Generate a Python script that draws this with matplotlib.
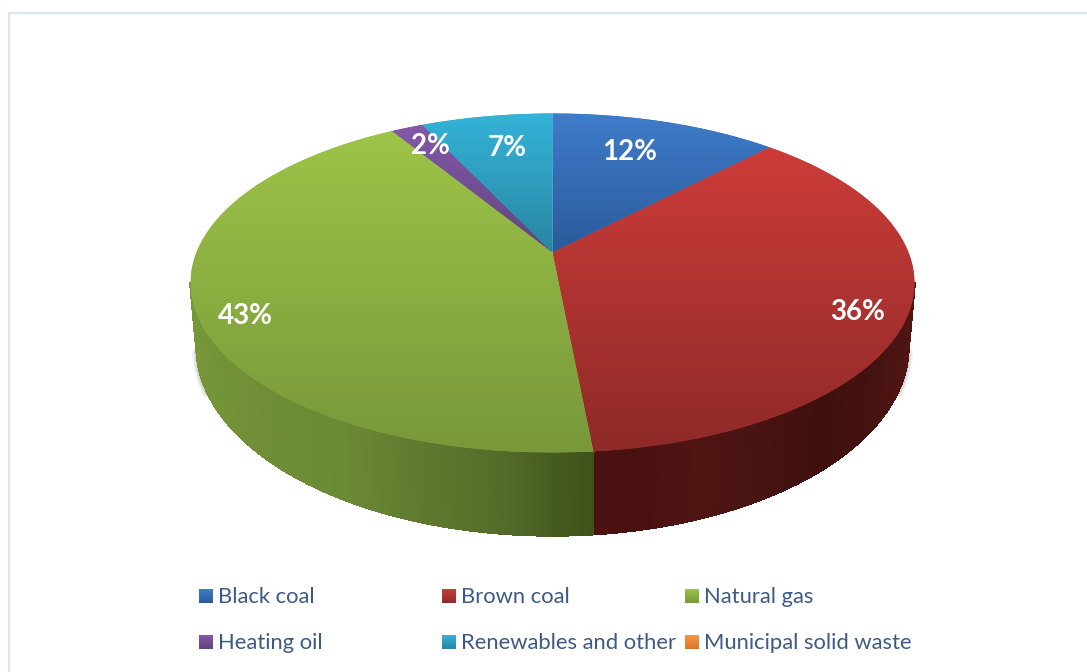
import numpy as np
import matplotlib
matplotlib.use("Agg")
import matplotlib.pyplot as plt
from matplotlib.colors import to_rgb
from matplotlib.patches import Polygon
from matplotlib.collections import PolyCollection

categories = ["Black coal", "Brown coal", "Natural gas", "Heating oil",
              "Renewables and other", "Municipal solid waste"]
shares = [12.1, 36.4, 42.8, 1.7, 7.0, 0.0]

top_colors = ["#3f7cca", "#cd3c39", "#9dc448", "#8359a9", "#34b3d8", "#f79646"]
bottom_colors = ["#2a5b9a", "#8e2a28", "#78983a", "#61447d", "#2986a2", "#d9762a"]

plt.rcParams["font.family"] = ["Lato", "DejaVu Sans"]
W, H = 1087, 672
fig = plt.figure(figsize=(W / 100, H / 100), dpi=100)
ax = fig.add_axes([0, 0, 1, 1])
ax.axis("off")

CX, CY, C, A, K = 552.5, 252.5, 356.0, 164.0, 0.18
BOT_RX, BOT_CY, BOT_RY = 356.0, 346.0, 189.5


def project(theta):
    x, y = np.sin(theta), np.cos(theta)
    w = 1 + K * y
    return CX + C * x / w, CY - A * y / w


def bottom_point(sx):
    bx = CX + (sx - CX) * BOT_RX / 362.0
    u = np.clip((bx - CX) / BOT_RX, -1, 1)
    return bx, BOT_CY + BOT_RY * np.sqrt(1 - u ** 2)


def gradient_fill(poly_xy, c_top, c_bot, zorder=3):
    y0, y1 = poly_xy[:, 1].min(), poly_xy[:, 1].max()
    x0, x1 = poly_xy[:, 0].min(), poly_xy[:, 0].max()
    t = np.linspace(0, 1, 256)[:, None, None]
    grad = (1 - t) * np.array(to_rgb(c_top))[None, None, :] + t * np.array(to_rgb(c_bot))[None, None, :]
    mid = tuple(0.5 * (np.array(to_rgb(c_top)) + np.array(to_rgb(c_bot))))
    # solid base underneath closes antialiasing seams between neighbours
    ax.add_patch(Polygon(poly_xy, closed=True, fc=mid, ec="none", zorder=zorder - 0.5))
    im = ax.imshow(grad, extent=(x0, x1, y1, y0), aspect="auto", origin="upper",
                   zorder=zorder, interpolation="bilinear")
    patch = Polygon(poly_xy, closed=True, transform=ax.transData, fc="none", ec="none")
    ax.add_patch(patch)
    im.set_clip_path(patch)


# Cumulative angles (clockwise from 12 o'clock)
edges = np.radians(np.concatenate([[0], np.cumsum(shares)]) / sum(shares) * 360)

# Outer soft shadow of the wall
th_ext = np.arccos(-K)
for side, rng in ((-1, (np.radians(246), 2 * np.pi - th_ext)), (1, (th_ext, np.radians(114)))):
    th = np.linspace(rng[0], rng[1], 60)
    sx, _ = project(th)
    bx, by = bottom_point(sx)
    for lw, alpha, off in ((4, 0.07, 2.0), (2.5, 0.10, 1.5), (1.2, 0.14, 1.0)):
        ax.plot(bx + side * off, by + 2, color="#606060", lw=lw, alpha=alpha, zorder=1,
                solid_capstyle="round")

# Side wall: shades along x
wall_x = {
    1: ([594, 640, 700, 760, 820, 870, 914],
        ["#4a1210", "#481210", "#4f1513", "#471311", "#3f100f", "#441210", "#501613"]),
    2: ([190, 260, 340, 420, 500, 560, 594],
        ["#769638", "#6f8e37", "#6b8a35", "#5f7a2f", "#546c29", "#45591f", "#3f5219"]),
}
for i, (xs, cols) in wall_x.items():
    a0, a1 = max(edges[i], th_ext), min(edges[i + 1], 2 * np.pi - th_ext)
    th = np.linspace(a0, a1, 260)
    sx, sy = project(th)
    bx, by = bottom_point(sx)
    rgb = np.array([to_rgb(c) for c in cols])
    quads, fc = [], []
    for j in range(len(th) - 1):
        quads.append([(sx[j], sy[j]), (sx[j + 1], sy[j + 1]), (bx[j + 1], by[j + 1]), (bx[j], by[j])])
        xm = 0.5 * (sx[j] + sx[j + 1])
        fc.append([np.interp(xm, xs, rgb[:, c]) for c in range(3)])
    ax.add_collection(PolyCollection(quads, facecolors=fc, edgecolors=fc, linewidths=1.0,
                                     antialiaseds=False, zorder=2))

# Top face
for i, s in enumerate(shares):
    if s <= 0:
        continue
    th = np.linspace(edges[i], edges[i + 1], max(8, int(s * 8)))
    px, py = project(th)
    poly = np.column_stack([np.r_[CX, px], np.r_[CY, py]])
    gradient_fill(poly, top_colors[i], bottom_colors[i])

# Percentage labels
label_anchor = [(630, 152), (858, 312), (245, 316), (430, 146), (507, 148)]
for s, (lx, ly) in zip(shares, label_anchor):
    ax.text(lx, ly, f"{s:.0f}%", color="white", fontsize=20, fontweight="bold",
            ha="center", va="center", zorder=6)

# Legend
col_x = [199, 442, 685]
row_y = [596, 642]
for i, name in enumerate(categories):
    mx, my = col_x[i % 3], row_y[i // 3]
    sq = np.array([(mx, my - 7), (mx + 14, my - 7), (mx + 14, my + 7), (mx, my + 7)], float)
    gradient_fill(sq, top_colors[i], bottom_colors[i], zorder=5)
    ax.text(mx + 19, my + 1, name, color="#3d5a86", fontsize=15.8, va="center", ha="left", zorder=6)

# Chart frame (top and left only are visible)
ax.plot([9, 9, W], [H, 13, 13], color="#d8e5f5", lw=1.6, zorder=0, solid_joinstyle="miter")

ax.set_xlim(0, W)
ax.set_ylim(H, 0)
fig.savefig("out.png", dpi=100, facecolor="white")
